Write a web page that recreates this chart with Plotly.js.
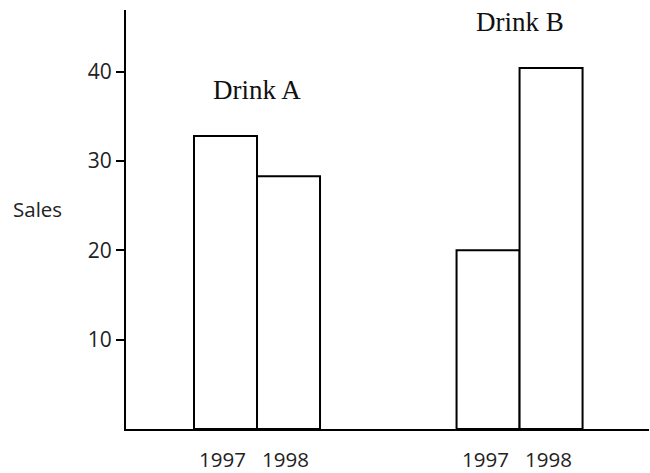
<!DOCTYPE html>
<html>
<head>
<meta charset="utf-8">
<script src="https://cdn.plot.ly/plotly-3.0.1.min.js"></script>
<style>html,body{margin:0;padding:0;background:#fff;}#chart{width:650px;height:473px;}</style>
</head>
<body>
<div id="chart"></div>
<script>
const drinks = ["Drink A", "Drink B"];
const years = ["1997", "1998"];
const sales1997 = [32.8, 20.0];
const sales1998 = [28.3, 40.4];
const yTicks = [10, 20, 30, 40];

const seriesVals = [sales1997, sales1998];
const traces = years.map((yr, i) => ({
  type: "bar",
  name: yr,
  x: drinks,
  y: seriesVals[i],
  marker: {color: "#ffffff", line: {color: "#000000", width: 2}},
  hoverinfo: "skip"
}));

const barHalf = 31.5;
const annotations = [];
drinks.forEach((d, di) => {
  years.forEach((yr, yi) => {
    annotations.push({
      x: d, y: 0, xref: "x", yref: "y",
      text: yr, showarrow: false,
      xshift: (yi === 0 ? -barHalf : barHalf) - 3,
      yshift: -30, yanchor: "middle", xanchor: "center",
      borderpad: 0,
      font: {family: "Open Sans", size: 20.5, color: "#222"}
    });
  });
  const top = Math.max(...seriesVals.map(s => s[di]));
  annotations.push({
    x: d, y: top, xref: "x", yref: "y",
    text: d, showarrow: false,
    yshift: 46, yanchor: "middle", xanchor: "center",
    font: {family: "Liberation Serif", size: 27, color: "#111"}
  });
});
annotations.push({
  x: -0.169, y: 0.525, xref: "paper", yref: "paper",
  text: "Sales", showarrow: false, xanchor: "center", yanchor: "middle",
  font: {family: "Open Sans", size: 20.5, color: "#222"}
});

const layout = {
  width: 650, height: 473,
  margin: {l: 126, r: 1, t: 10, b: 44},
  paper_bgcolor: "#ffffff", plot_bgcolor: "#ffffff",
  showlegend: false,
  barmode: "group",
  bargap: 0.52,
  bargroupgap: 0,
  xaxis: {
    type: "category",
    range: [-0.499, 1.493],
    showline: true, linecolor: "#000", linewidth: 2,
    showticklabels: false, ticks: "", showgrid: false, zeroline: false,
    fixedrange: true
  },
  yaxis: {
    range: [0, 46.9],
    showline: true, linecolor: "#000", linewidth: 2,
    tickvals: yTicks, ticktext: yTicks.map(String),
    ticks: "outside", ticklen: 8, tickwidth: 2, tickcolor: "#000",
    ticklabelstandoff: 0,
    tickfont: {family: "Open Sans", size: 21, color: "#222"},
    showgrid: false, zeroline: false, fixedrange: true
  },
  annotations: annotations
};

Plotly.newPlot("chart", traces, layout, {displayModeBar: false, staticPlot: true});
</script>
</body>
</html>
